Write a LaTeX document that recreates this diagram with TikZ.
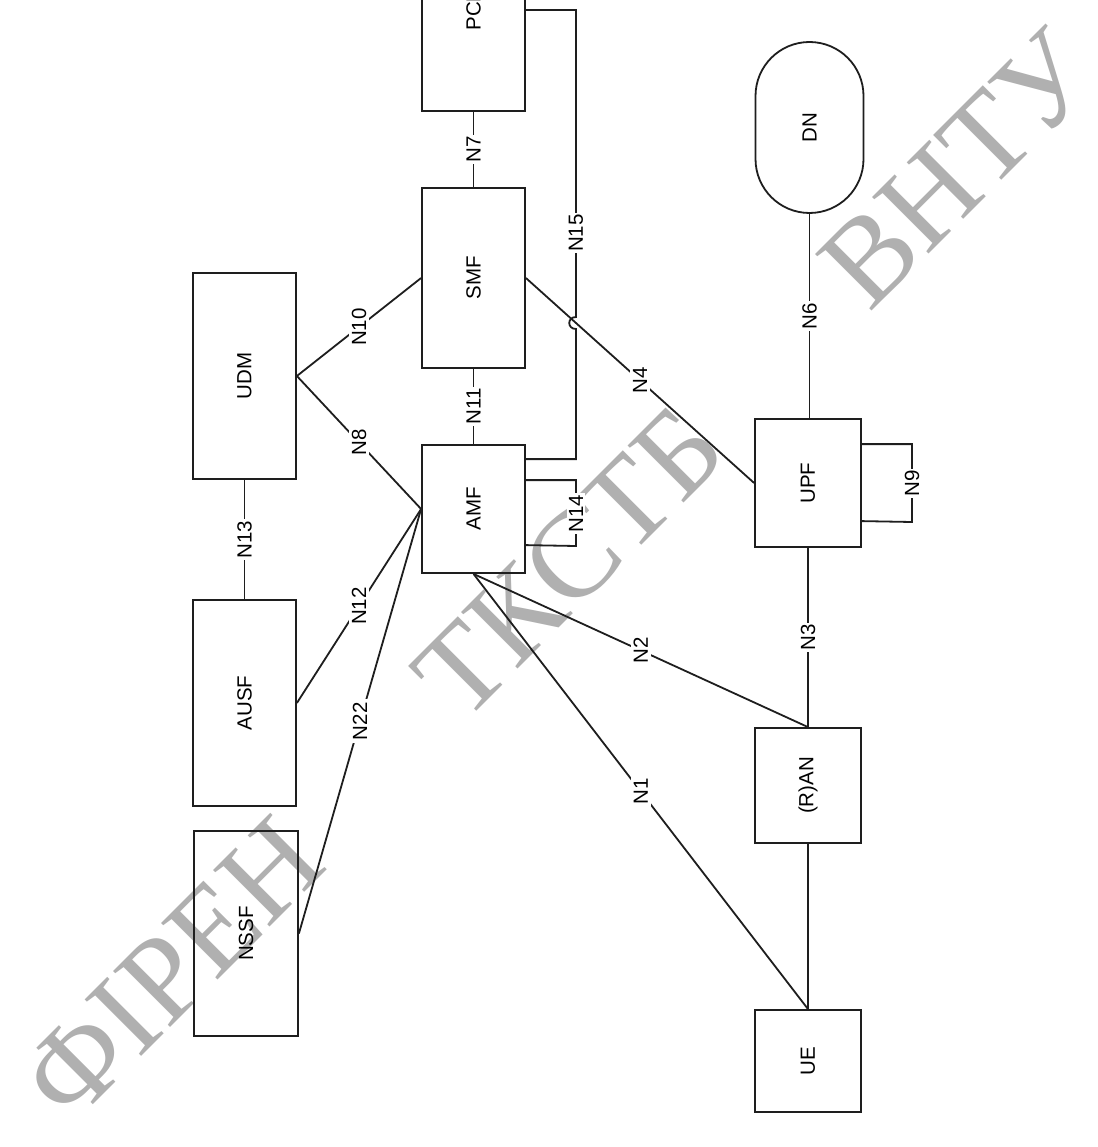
\documentclass[tikz,border=0pt]{standalone}
\usepackage{fontspec}
\usepackage{graphicx}
\setmainfont{Liberation Sans}
\newfontfamily\wmfont{Liberation Serif}
\usetikzlibrary{calc}
\definecolor{linec}{HTML}{1E1E1E}
\definecolor{wmgray}{HTML}{B0B0B0}
\begin{document}
\begin{tikzpicture}[x=1pt,y=-1pt,
  box/.style={draw=linec, line width=1.8pt, rectangle, minimum width=103pt, inner sep=0pt,
    font=\fontsize{20.5}{24}\selectfont, text=black},
  conn/.style={draw=linec, line width=1.8pt},
  lbl/.style={fill=white, rotate=90, inner sep=1.5pt, font=\fontsize{20.5}{24}\selectfont, text=black},
  wm/.style={rotate=45, inner sep=0pt, text=wmgray, font=\wmfont\fontsize{122}{130}\selectfont}]
\useasboundingbox (0,0) rectangle (1097,1147);
\clip (0,0) rectangle (1097,1147);
\fill[white] (0,0) rectangle (1097,1147);

% watermark
\node[wm] (w1) at (172,969) {ФІРЕН};
\node[wm] (w2) at (569,562) {ТКСТБ};
\node[wm] (w3) at (958,169) {ВНТУ};

% boxes
\node[box, minimum height=202pt] (PCF) at (473.5,10) {\rotatebox{90}{PCF}};
\node[box, minimum height=180pt] (SMF) at (473.5,278) {\rotatebox{90}{SMF}};
\node[box, minimum height=128pt] (AMF) at (473.5,509) {\rotatebox{90}{AMF}};
\node[box, minimum height=206pt] (UDM) at (244.5,376) {\rotatebox{90}{UDM}};
\node[box, minimum height=206pt] (AUSF) at (244.5,703) {\rotatebox{90}{AUSF}};
\node[box, minimum width=104pt, minimum height=205pt] (NSSF) at (246,933.5) {\rotatebox{90}{NSSF}};
\node[box, minimum width=106pt, minimum height=128pt] (UPF) at (808,483) {\rotatebox{90}{UPF}};
\node[box, minimum width=106pt, minimum height=115pt] (RAN) at (808,785.5) {\rotatebox{90}{(R)AN}};
\node[box, minimum width=106pt, minimum height=102pt] (UE) at (808,1061) {\rotatebox{90}{UE}};
\node[box, rounded corners=54pt, minimum width=108pt, minimum height=171pt] (DN) at (809.5,127.5) {\rotatebox{90}{DN}};

% connectors
\draw[conn] (PCF.south) -- node[lbl] (l7) {N7} (SMF.north);
\draw[conn] (SMF.south) -- node[lbl] (l11) {N11} (AMF.north);
\draw[conn] (UDM.east) -- node[lbl, inner sep=3pt] (l10) {N10} (SMF.west);
\draw[conn] (UDM.east) -- node[lbl, inner sep=3pt] (l8) {N8} (AMF.west);
\draw[conn] (AUSF.east) -- node[lbl, inner sep=3pt] (l12) {N12} (AMF.west);
\draw[conn] (NSSF.east) -- node[lbl, inner sep=3pt] (l22) {N22} (AMF.west);
\draw[conn] (UDM.south) -- node[lbl] (l13) {N13} (AUSF.north);
\draw[conn] (SMF.east) -- node[lbl, inner sep=3pt] (l4) {N4} (UPF.west);
\draw[conn] (DN.south) -- node[lbl] (l6) {N6} (DN.south |- UPF.north);
\draw[conn] (UPF.south) -- node[lbl] (l3) {N3} (RAN.north);
\draw[conn] (RAN.south) -- (UE.north);
\draw[conn] (AMF.south) -- node[lbl, inner sep=3pt] (l2) {N2} (RAN.north);
\draw[conn] (AMF.south) -- node[lbl, inner sep=3pt] (l1) {N1} (UE.north);

\coordinate (h15a) at (576,10);
\coordinate (h15b) at (576,317);
\coordinate (h15c) at (576,329);
\draw[conn] (PCF.east) -- (h15a) -- (h15b) .. controls (567,317) and (567,329) .. (h15c)
  -- (h15c |- {$(AMF.north east)+(0,15)$}) -- ($(AMF.north east)+(0,15)$);
\node[lbl] (l15) at (576,233) {N15};

\draw[conn] ($(AMF.north east)+(0,36)$) -| (576,546) -- ($(AMF.north east)+(0,101)$);
\node[lbl] (l14) at (576,513.5) {N14};

\draw[conn] ($(UPF.north east)+(0,26)$) -| (912,522) -- ($(UPF.north east)+(0,103)$);
\node[lbl] (l9) at (912,483.5) {N9};
\end{tikzpicture}
\end{document}
